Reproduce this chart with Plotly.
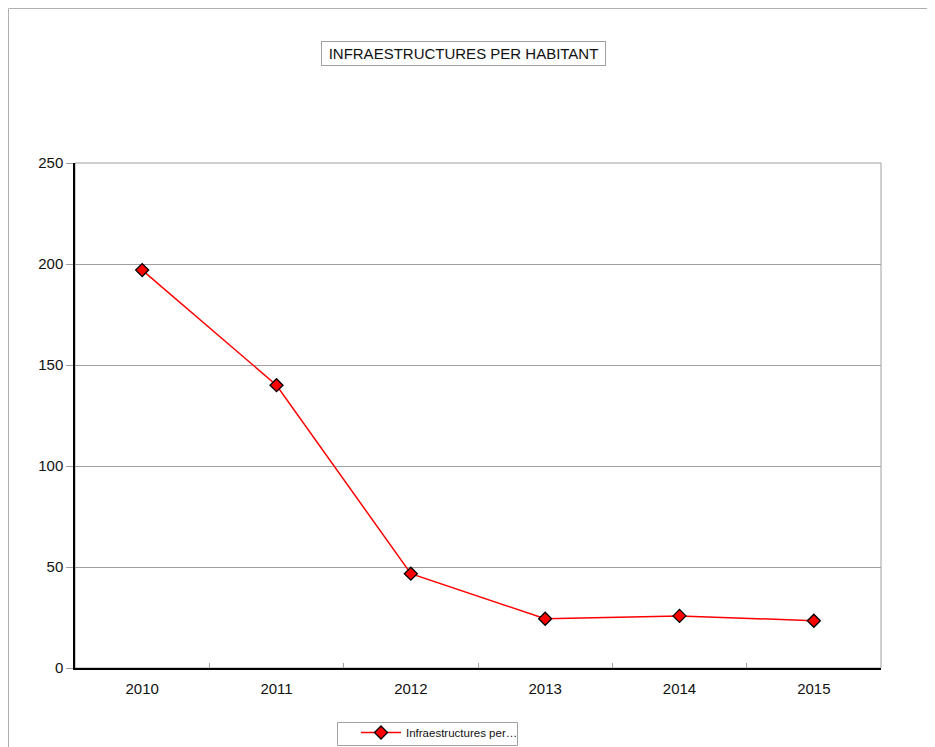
import plotly.graph_objects as go

years = ["2010", "2011", "2012", "2013", "2014", "2015"]
values = [197, 140, 46.7, 24.4, 25.8, 23.4]
series_name = "Infraestructures per…"
title_text = "INFRAESTRUCTURES PER HABITANT"
y_ticks = [0, 50, 100, 150, 200, 250]

OFF = 8  # page body margin
W, H = 935 - 2 * OFF, 747 - OFF
# plot area in screen coordinates
SX0, SX1, SY0, SY1 = 75, 881, 163, 668
L = SX0 - OFF
R = W - (SX1 - OFF)
T = SY0 - OFF
B = H - (SY1 - OFF)
pw, ph = W - L - R, H - T - B


def px_x(sx):
    return (sx - OFF - L) / pw


def px_y(sy):
    return (H - B - (sy - OFF)) / ph


fig = go.Figure()
fig.add_trace(go.Scatter(
    x=years, y=values, name=series_name, mode="lines+markers",
    line=dict(color="#ff0000", width=1.5),
    marker=dict(symbol="diamond", size=10, color="#ff0000",
                line=dict(color="#000000", width=1.3)),
))

fig.update_layout(
    width=W, height=H,
    margin=dict(l=L, r=R, t=T, b=B, autoexpand=False),
    paper_bgcolor="white", plot_bgcolor="white",
    font=dict(family="Liberation Sans, Arial, sans-serif", size=15, color="#111111"),
    showlegend=True,
    legend=dict(
        orientation="h", xref="container", yref="container",
        x=(356 - OFF) / W, xanchor="left",
        y=1 - (718 - OFF) / H, yanchor="top",
        borderwidth=0, bgcolor="rgba(0,0,0,0)", font=dict(size=11.5),
        itemwidth=40,
    ),
    xaxis=dict(
        type="category", range=[-0.5, 5.5], tickson="boundaries",
        ticks="inside", ticklen=5, tickcolor="#a0a0a0",
        showline=True, linecolor="#000000", linewidth=1.5,
        showgrid=False, zeroline=False, fixedrange=True,
        ticklabelstandoff=6,
    ),
    yaxis=dict(
        range=[0, 250], tickvals=y_ticks, ticks="outside", ticklen=7,
        tickcolor="#a0a0a0", showline=True, linecolor="#000000", linewidth=1.5,
        showgrid=True, gridcolor="#a0a0a0", gridwidth=1, zeroline=False,
        fixedrange=True,
    ),
    shapes=[
        dict(type="rect", xref="paper", yref="paper", x0=0, x1=1, y0=0, y1=1,
             line=dict(color="#a0a0a0", width=1), layer="below"),
        dict(type="rect", xref="paper", yref="paper",
             x0=px_x(8.5), x1=px_x(990), y0=px_y(800), y1=px_y(8.5),
             line=dict(color="#b0b0b0", width=1), layer="below"),
        dict(type="rect", xref="paper", yref="paper",
             x0=px_x(337.5), x1=px_x(517.5), y0=px_y(745.5), y1=px_y(722.5),
             line=dict(color="#a0a0a0", width=1), layer="below"),
    ],
    annotations=[
        dict(text=title_text, xref="paper", yref="paper",
             x=px_x(463.5), y=px_y(53.5), xanchor="center", yanchor="middle",
             showarrow=False, font=dict(size=15),
             width=277, height=17,
             bordercolor="#a0a0a0", borderwidth=1, borderpad=3,
             bgcolor="white"),
    ],
)

fig.write_html("out.html")
